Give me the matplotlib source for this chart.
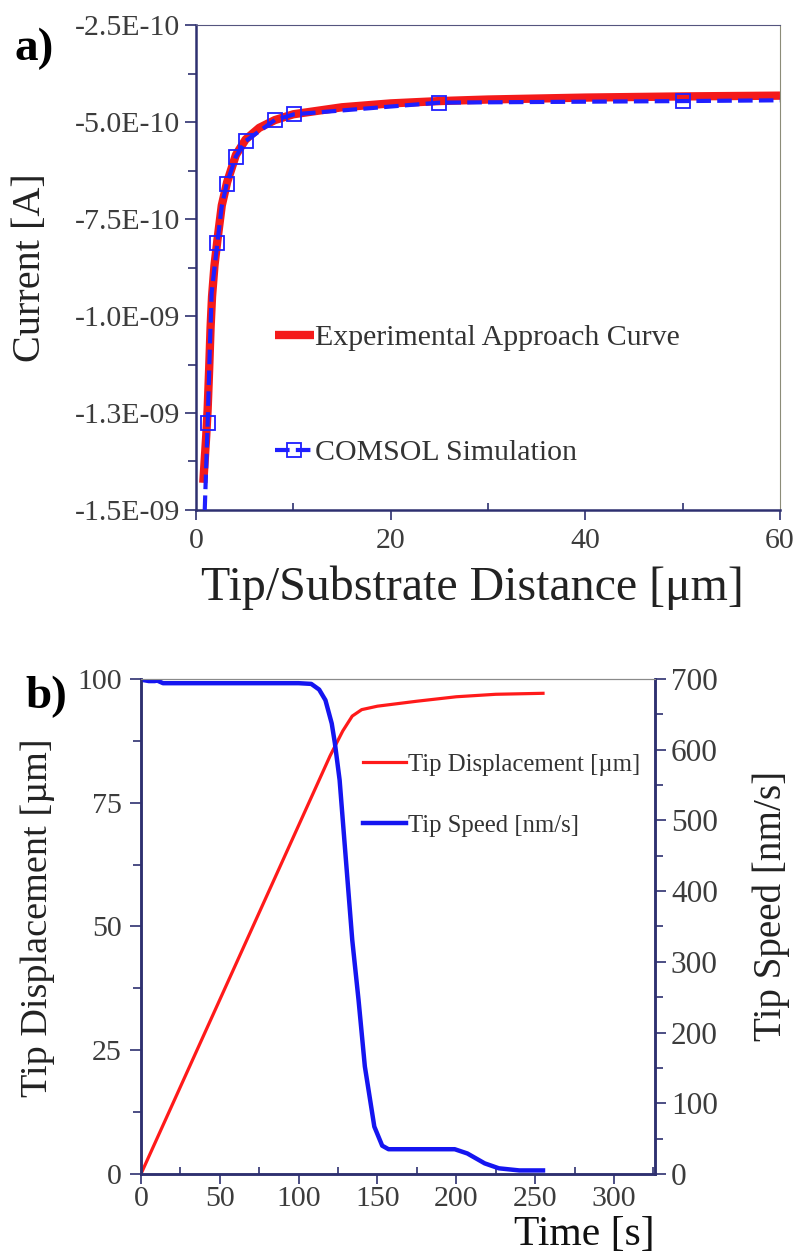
import matplotlib
matplotlib.use("Agg")
import matplotlib.pyplot as plt
from matplotlib.ticker import FixedLocator, MultipleLocator

plt.rcParams['font.family'] = ['Liberation Serif', 'DejaVu Serif']

# panel a: approach curve
exp_x = [0.75, 0.9, 1.05, 1.2, 1.35, 1.5, 1.65, 1.9, 2.2, 2.65, 3.2, 4.1, 5.1, 6.5, 8.1, 10, 15, 20, 25, 30, 40, 50, 60]
exp_y = [-14.3e-10, -13.7e-10, -13.1e-10, -12.4e-10, -11.4e-10, -10.3e-10, -9.5e-10, -8.7e-10,
         -8.05e-10, -7.15e-10, -6.55e-10, -5.85e-10, -5.45e-10, -5.15e-10, -4.95e-10, -4.8e-10,
         -4.62e-10, -4.52e-10, -4.46e-10, -4.42e-10, -4.37e-10, -4.34e-10, -4.32e-10]
sim_x = [0.9, 1.2, 1.44, 1.61, 2.2, 2.64, 3.15, 4.1, 5.1, 8.1, 10.1, 25, 50, 60]
sim_y = [-15.0e-10, -12.76e-10, -10.7e-10, -9.4e-10, -8.11e-10, -7.18e-10, -6.6e-10, -5.89e-10,
         -5.49e-10, -4.95e-10, -4.8e-10, -4.5e-10, -4.46e-10, -4.44e-10]
sim_marks = [1, 4, 6, 7, 8, 9, 10, 11, 12]
a_yticks = [-1.5e-9, -1.25e-9, -1.0e-9, -7.5e-10, -5.0e-10, -2.5e-10]
a_ylabels = ['-1.5E-09', '-1.3E-09', '-1.0E-09', '-7.5E-10', '-5.0E-10', '-2.5E-10']
a_xticks = [0, 20, 40, 60]

# panel b: displacement and speed vs time
disp_t = [0, 120, 128, 134, 140, 150, 175, 200, 225, 255]
disp = [0, 84.5, 89.5, 92.5, 93.8, 94.5, 95.5, 96.4, 96.9, 97.1]
speed_t = [0, 5, 9, 10, 11, 14, 20, 40, 60, 80, 100, 108, 113, 117, 121, 123, 126, 129, 134, 138,
           142, 148, 153, 157, 199, 207, 218, 227, 240, 255]
speed = [699, 697, 697, 704, 697, 694, 694, 694, 694, 694, 694, 693, 685, 670, 637, 609, 557, 472,
         331, 246, 152, 67, 40, 35, 35, 29, 15, 8, 5, 5]

navy = '#2e3070'
tick_col = '#3c3c3c'
lab_col = '#222222'

fig = plt.figure(figsize=(7.96, 12.58), dpi=100)

# ---- panel a ----
ax = fig.add_axes([0.2462, 0.5946, 0.7337, 0.3855])
ax.plot(exp_x, exp_y, color='#f41a1a', lw=6, solid_capstyle='butt', label='Experimental Approach Curve', zorder=2)
ax.plot(sim_x, sim_y, color='#1f1fff', lw=3, dashes=(3.5, 1.5), marker='s', markersize=10,
        markerfacecolor='none', markeredgecolor='#1f1fff', markeredgewidth=1.3,
        markevery=sim_marks, label='COMSOL Simulation', zorder=3)
ax.set_xlim(0, 60)
ax.set_ylim(-1.5e-9, -2.5e-10)
ax.yaxis.set_major_locator(FixedLocator(a_yticks))
ax.set_yticklabels(a_ylabels)
ax.yaxis.set_minor_locator(MultipleLocator(1.25e-10))
ax.xaxis.set_major_locator(FixedLocator(a_xticks))
ax.xaxis.set_minor_locator(MultipleLocator(10))
ax.tick_params(which='both', colors=navy, labelcolor=tick_col, labelsize=21.5, width=1.2)
ax.tick_params(axis='y', which='major', length=8, direction='out')
ax.tick_params(axis='y', which='minor', length=6, direction='out')
ax.tick_params(axis='x', which='major', length=7, direction='out', pad=6)
ax.tick_params(axis='x', which='minor', length=5, direction='in')
ax.spines['left'].set_color(navy)
ax.spines['bottom'].set_color(navy)
ax.spines['left'].set_linewidth(1.8)
ax.spines['bottom'].set_linewidth(1.8)
ax.spines['top'].set_color('#55557f')
ax.spines['right'].set_color('#8c8c78')
ax.set_ylabel('Current [A]', fontsize=29, color=lab_col)
ax.yaxis.set_label_coords(-0.252, 0.5)
ax.set_xlabel('Tip/Substrate Distance [\u03bcm]', fontsize=34.5, color=lab_col)
ax.xaxis.set_label_coords(0.473, -0.115)
leg = ax.legend(loc='upper left', bbox_to_anchor=(0.135, 0.383), frameon=False, fontsize=21.5,
                handlelength=1.3, handletextpad=0.05, labelspacing=2.95, borderpad=0, borderaxespad=0)
for t in leg.get_texts():
    t.set_color('#333333')

fig.text(15 / 796, 1 - 28 / 1258, 'a)', fontsize=34, fontweight='bold', ha='left', va='top')

# ---- panel b ----
bx = fig.add_axes([0.1771, 0.0668, 0.6457, 0.3935])
bx2 = bx.twinx()
l1, = bx.plot(disp_t, disp, color='#ff1a1a', lw=2.3, label='Tip Displacement [\u00b5m]')
l2, = bx2.plot(speed_t, speed, color='#1515f0', lw=3.2, label='Tip Speed [nm/s]')
bx.set_xlim(0, 326)
bx.set_ylim(0, 100)
bx2.set_ylim(0, 700)
bx.xaxis.set_major_locator(MultipleLocator(50))
bx.xaxis.set_minor_locator(MultipleLocator(25))
bx.yaxis.set_major_locator(MultipleLocator(25))
bx.yaxis.set_minor_locator(MultipleLocator(12.5))
bx2.yaxis.set_major_locator(MultipleLocator(100))
bx2.yaxis.set_minor_locator(MultipleLocator(50))
bx.tick_params(which='both', colors=navy, labelcolor=tick_col, labelsize=21.5, width=1.2)
bx2.tick_params(which='both', colors=navy, labelcolor=tick_col, labelsize=22.5, width=1.2)
for a in (bx, bx2):
    a.tick_params(axis='y', which='major', length=8, direction='out')
    a.tick_params(axis='y', which='minor', length=6, direction='out')
bx.tick_params(axis='y', which='major', pad=6)
bx.tick_params(axis='x', which='major', length=7, direction='out', pad=2)
bx.tick_params(axis='x', which='minor', length=5, direction='in')
for a in (bx, bx2):
    a.spines['left'].set_color(navy)
    a.spines['bottom'].set_color(navy)
    a.spines['right'].set_color(navy)
    a.spines['top'].set_color('#8a8a8a')
    a.spines['left'].set_linewidth(1.8)
    a.spines['bottom'].set_linewidth(1.8)
    a.spines['right'].set_linewidth(1.8)
bx.set_ylabel('Tip Displacement [\u00b5m]', fontsize=27.5, color=lab_col)
bx.yaxis.set_label_coords(-0.168, 0.517)
bx2.set_ylabel('Tip Speed [nm/s]', fontsize=28.2, color=lab_col)
bx2.yaxis.set_label_coords(1.189, 0.541)
bx.set_xlabel('Time [s]', fontsize=30, color='#111111', loc='right', labelpad=2)
leg2 = bx2.legend([l1, l2], [l1.get_label(), l2.get_label()], loc='center left',
                  bbox_to_anchor=(0.432, 0.765), frameon=False, fontsize=17.8,
                  handlelength=1.75, handletextpad=0.05, labelspacing=1.55, borderpad=0, borderaxespad=0)
for t in leg2.get_texts():
    t.set_color('#333333')

fig.text(25 / 796, 1 - 676 / 1258, 'b)', fontsize=34, fontweight='bold', ha='left', va='top')

fig.savefig('out.png', dpi=100)
